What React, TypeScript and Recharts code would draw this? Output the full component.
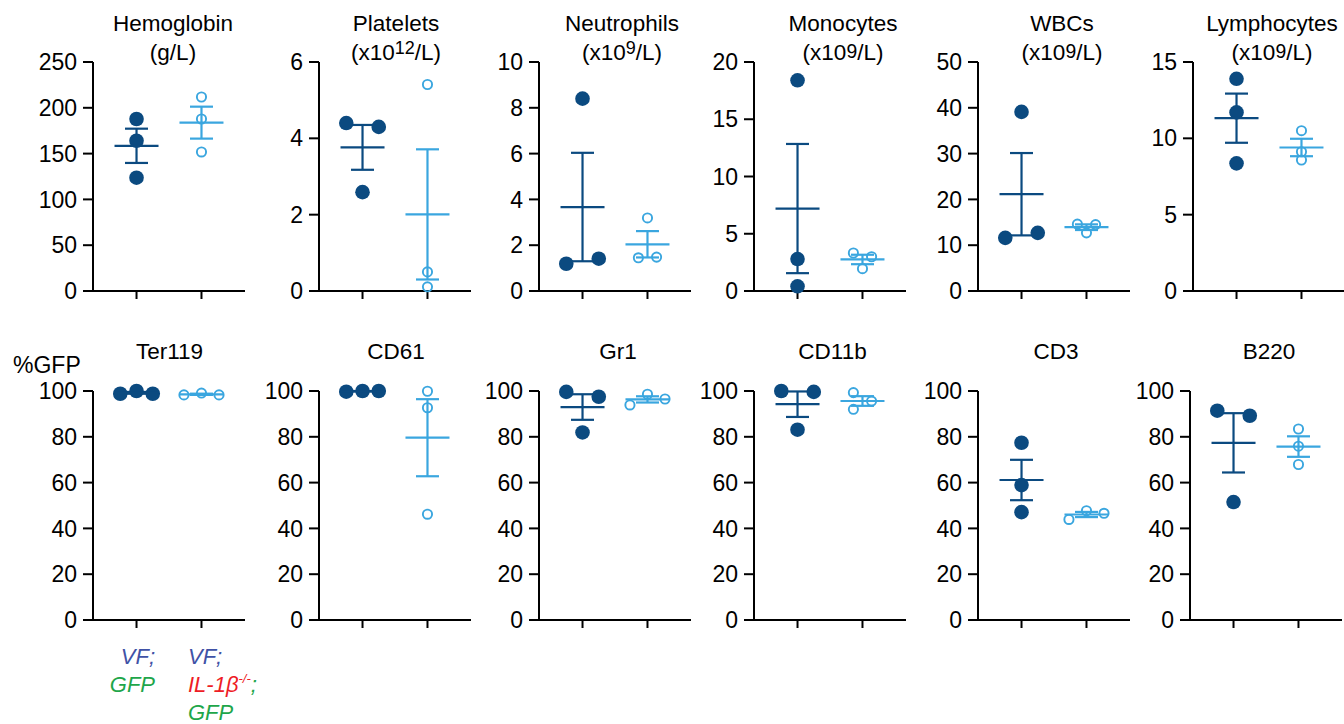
import { ErrorBar, Scatter, ScatterChart, XAxis, YAxis } from "recharts";

const DARK = "#0b4a80";
const LIGHT = "#3aa6df";
const VF_BLUE = "#3f52a6";
const GFP_GREEN = "#1ea64a";
const KO_RED = "#ee1c25";
const FONT = "'Liberation Sans', Arial, Helvetica, sans-serif";

// top row: blood counts
const topTitles = ["Hemoglobin", "Platelets", "Neutrophils", "Monocytes", "WBCs", "Lymphocytes"];
const topUnits: string[][] = [
  ["(g/L)"],
  ["(x10", "12", "/L)"],
  ["(x10", "9", "/L)"],
  ["(x10", "9", "/L)"],
  ["(x10", "9", "/L)"],
  ["(x10", "9", "/L)"],
];
const topFullSup = [false, true, true, false, false, false];
const topMax = [250, 6, 10, 20, 50, 15];
const topTicks = [
  [0, 50, 100, 150, 200, 250],
  [0, 2, 4, 6],
  [0, 2, 4, 6, 8, 10],
  [0, 5, 10, 15, 20],
  [0, 10, 20, 30, 40, 50],
  [0, 5, 10, 15],
];
const vfTop = [
  [187.8, 164, 123.7],
  [4.4, 4.3, 2.59],
  [8.4, 1.19, 1.41],
  [18.4, 2.79, 0.41],
  [39.1, 11.6, 12.7],
  [13.9, 11.7, 8.36],
];
const koTop = [
  [211.8, 187.8, 151.8],
  [5.41, 0.5, 0.11],
  [3.19, 1.45, 1.48],
  [3.32, 2.99, 1.95],
  [14.6, 14.5, 12.7],
  [10.5, 9.12, 8.58],
];
const vfTopJitter = [[0, 0, 0], [-0.25, 0.25, 0], [0, -0.25, 0.25], [0, 0, 0], [0, -0.25, 0.25], [0, 0, 0]];
const koTopJitter = [[0, 0, 0], [0, 0, 0], [0, -0.14, 0.14], [-0.14, 0.14, 0], [-0.14, 0.14, 0], [0, 0, 0]];

// bottom row: %GFP per lineage
const bottomTitles = ["Ter119", "CD61", "Gr1", "CD11b", "CD3", "B220"];
const bottomTicks = [0, 20, 40, 60, 80, 100];
const vfBottom = [
  [98.8, 100, 98.8],
  [99.7, 100, 100],
  [99.6, 97.5, 81.9],
  [100, 99.6, 83.1],
  [77.4, 58.9, 47.1],
  [91.4, 89.2, 51.5],
];
const koBottom = [
  [98.3, 99.1, 98.3],
  [99.9, 92.7, 46.2],
  [93.9, 98.6, 96.5],
  [99.3, 95.6, 92.0],
  [43.9, 47.7, 46.6],
  [83.4, 75.9, 67.9],
];
const vfBottomJitter = [[-0.25, 0, 0.25], [-0.25, 0, 0.25], [-0.25, 0.25, 0], [-0.25, 0.25, 0], [0, 0, 0], [-0.25, 0.25, 0]];
const koBottomJitter = [[-0.27, 0, 0.27], [0, 0, 0], [-0.27, 0, 0.27], [-0.14, 0.14, -0.14], [-0.27, 0, 0.27], [0, 0, 0]];

// layout
const topAxisX = [93, 319, 539, 754, 978, 1193];
const bottomAxisX = [93, 319, 539, 754, 978, 1190];
const topTitleX = [173, 396, 622, 843, 1062, 1272];
const bottomTitleX = [169.5, 396, 618, 832.5, 1056, 1269];
const TOP_PLOT_Y = 62;
const BOTTOM_PLOT_Y = 391;
const PLOT_W = 152;
const PLOT_H = 229;
const Y_AXIS_W = 60;
const PAD_TOP = 20;

const mean = (v: number[]) => v.reduce((a, b) => a + b, 0) / v.length;
const sem = (v: number[]) => {
  const m = mean(v);
  const sd = Math.sqrt(v.reduce((a, b) => a + (b - m) ** 2, 0) / (v.length - 1));
  return sd / Math.sqrt(v.length);
};

const DarkDot = (p: any) => <circle cx={p.cx} cy={p.cy} r={7.3} fill={DARK} />;
const OpenDot = (p: any) => (
  <circle cx={p.cx} cy={p.cy} r={4.6} fill="none" stroke={LIGHT} strokeWidth={1.9} />
);
const meanLine = (color: string) => (p: any) => (
  <line x1={p.cx - 22} x2={p.cx + 22} y1={p.cy} y2={p.cy} stroke={color} strokeWidth={2.2} />
);

type PanelProps = {
  axisX: number;
  plotY: number;
  max: number;
  ticks: number[];
  vf: number[];
  ko: number[];
  vfJit: number[];
  koJit: number[];
};

function Panel({ axisX, plotY, max, ticks, vf, ko, vfJit, koJit }: PanelProps) {
  const vfPts = vf.map((y, i) => ({ x: 1 + vfJit[i], y }));
  const koPts = ko.map((y, i) => ({ x: 2 + koJit[i], y }));
  const vfSum = [{ x: 1, y: mean(vf), e: sem(vf) }];
  const koSum = [{ x: 2, y: mean(ko), e: sem(ko) }];
  const axisStyle = { stroke: "#000", strokeWidth: 2 };

  return (
    <div style={{ position: "absolute", left: axisX - Y_AXIS_W, top: plotY - PAD_TOP }}>
      <ScatterChart
        width={Y_AXIS_W + PLOT_W}
        height={PAD_TOP + PLOT_H + 20}
        margin={{ top: PAD_TOP, right: 0, bottom: 0, left: 0 }}
        style={{ overflow: "visible" }}
      >
        <XAxis
          type="number"
          dataKey="x"
          domain={[0.33, 2.67]}
          ticks={[1, 2]}
          height={20}
          tickSize={8}
          tick={() => <g />}
          axisLine={axisStyle}
          tickLine={axisStyle}
        />
        <YAxis
          type="number"
          dataKey="y"
          domain={[0, max]}
          ticks={ticks}
          interval={0}
          width={Y_AXIS_W}
          tickSize={10}
          tickMargin={6}
          tick={{ fill: "#000", fontSize: 23, fontFamily: FONT }}
          axisLine={axisStyle}
          tickLine={axisStyle}
        />
        <Scatter data={vfPts} shape={DarkDot} isAnimationActive={false} />
        <Scatter data={koPts} shape={OpenDot} isAnimationActive={false} />
        <Scatter data={vfSum} shape={meanLine(DARK)} isAnimationActive={false}>
          <ErrorBar dataKey="e" direction="y" width={11.5} stroke={DARK} strokeWidth={2.2} isAnimationActive={false} />
        </Scatter>
        <Scatter data={koSum} shape={meanLine(LIGHT)} isAnimationActive={false}>
          <ErrorBar dataKey="e" direction="y" width={11.5} stroke={LIGHT} strokeWidth={2.2} isAnimationActive={false} />
        </Scatter>
      </ScatterChart>
    </div>
  );
}

const textBase = {
  position: "absolute" as const,
  fontFamily: FONT,
  fontSize: 22.5,
  lineHeight: "29px",
  color: "#000",
  whiteSpace: "nowrap" as const,
};

function Title({ cx, top, lines }: { cx: number; top: number; lines: React.ReactNode[] }) {
  return (
    <div style={{ ...textBase, left: cx - 100, width: 200, top, textAlign: "center" }}>
      {lines.map((l, i) => (
        <div key={i}>{l}</div>
      ))}
    </div>
  );
}

function Unit({ parts, full }: { parts: string[]; full: boolean }) {
  if (parts.length === 1) return <>{parts[0]}</>;
  return (
    <>
      {parts[0]}
      <span
        style={{
          fontSize: full ? "0.8em" : "0.86em",
          position: "relative",
          top: full ? -6 : -2,
        }}
      >
        {parts[1]}
      </span>
      {parts[2]}
    </>
  );
}

// one line of the italic group label, placed by its baseline
function CatLine({ baseline, left, right, children }: { baseline: number; left?: number; right?: number; children: React.ReactNode }) {
  return (
    <div
      style={{
        position: "absolute",
        top: baseline - 17.6,
        left: left ?? (right !== undefined ? right - 120 : 0),
        width: left !== undefined ? undefined : 120,
        textAlign: left !== undefined ? "left" : "right",
        fontFamily: FONT,
        fontSize: 22,
        fontStyle: "italic",
        lineHeight: "20px",
        whiteSpace: "nowrap",
      }}
    >
      {children}
    </div>
  );
}

export default function App() {
  return (
    <div
      style={{
        position: "absolute",
        left: 0,
        top: 0,
        width: 1344,
        height: 724,
        overflow: "hidden",
        background: "#fff",
      }}
    >
      {topTitles.map((t, i) => (
        <Title
          key={t}
          cx={topTitleX[i]}
          top={9}
          lines={[t, <Unit parts={topUnits[i]} full={topFullSup[i]} />]}
        />
      ))}
      {bottomTitles.map((t, i) => (
        <Title key={t} cx={bottomTitleX[i]} top={337} lines={[t]} />
      ))}
      <div style={{ ...textBase, fontSize: 23, left: 13, top: 351 }}>%GFP</div>

      {topTitles.map((t, i) => (
        <Panel
          key={t}
          axisX={topAxisX[i]}
          plotY={TOP_PLOT_Y}
          max={topMax[i]}
          ticks={topTicks[i]}
          vf={vfTop[i]}
          ko={koTop[i]}
          vfJit={vfTopJitter[i]}
          koJit={koTopJitter[i]}
        />
      ))}
      {bottomTitles.map((t, i) => (
        <Panel
          key={t}
          axisX={bottomAxisX[i]}
          plotY={BOTTOM_PLOT_Y}
          max={100}
          ticks={bottomTicks}
          vf={vfBottom[i]}
          ko={koBottom[i]}
          vfJit={vfBottomJitter[i]}
          koJit={koBottomJitter[i]}
        />
      ))}

      {/* group labels under the first %GFP panel */}
      <CatLine baseline={665} right={155}>
        <span style={{ color: VF_BLUE }}>VF;</span>
      </CatLine>
      <CatLine baseline={693} right={155}>
        <span style={{ color: GFP_GREEN }}>GFP</span>
      </CatLine>
      <CatLine baseline={665} left={188}>
        <span style={{ color: VF_BLUE }}>VF;</span>
      </CatLine>
      <CatLine baseline={693} left={188}>
        <span style={{ color: KO_RED }}>
          IL-1β<span style={{ fontSize: 13, position: "relative", top: -9 }}>-/-</span>
        </span>
        <span style={{ color: GFP_GREEN }}>;</span>
      </CatLine>
      <CatLine baseline={721} left={188}>
        <span style={{ color: GFP_GREEN }}>GFP</span>
      </CatLine>
    </div>
  );
}
